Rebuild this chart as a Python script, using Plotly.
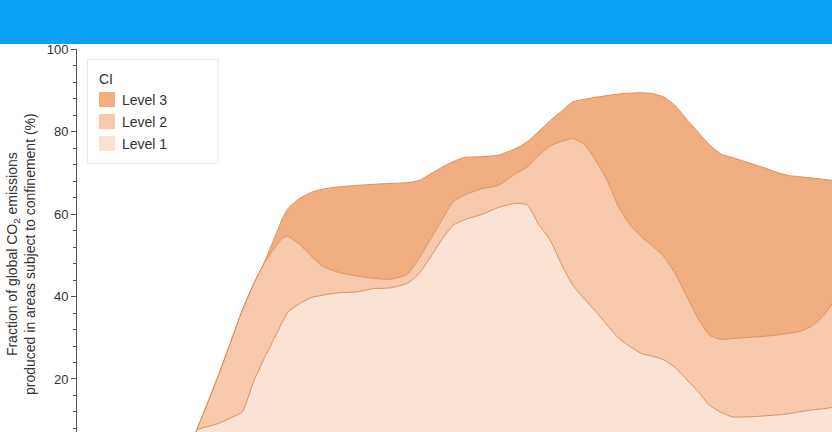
import plotly.graph_objects as go
import pandas as pd

# ---- data ----
dates = ["2020-01-01", "2020-01-21", "2020-01-22", "2020-01-24", "2020-01-26", "2020-01-28",
         "2020-01-30", "2020-02-01", "2020-02-03", "2020-02-05", "2020-02-06", "2020-02-07",
         "2020-02-09", "2020-02-11", "2020-02-13", "2020-02-16", "2020-02-19", "2020-02-22",
         "2020-02-25", "2020-02-28", "2020-03-01", "2020-03-03", "2020-03-05", "2020-03-07",
         "2020-03-09", "2020-03-12", "2020-03-15", "2020-03-18", "2020-03-20", "2020-03-22",
         "2020-03-24", "2020-03-26", "2020-03-28", "2020-03-30", "2020-04-01", "2020-04-03",
         "2020-04-05", "2020-04-07", "2020-04-09", "2020-04-11", "2020-04-13", "2020-04-15",
         "2020-04-17", "2020-04-19", "2020-04-21", "2020-04-23", "2020-04-25", "2020-04-27",
         "2020-04-29", "2020-05-01", "2020-05-03", "2020-05-05", "2020-05-07", "2020-05-09",
         "2020-05-11", "2020-05-13", "2020-05-15"]

level1 = [0, 3.5, 7.6, 8.5, 9.3, 10.6, 12.0, 19.4, 25.4, 30.9, 33.7, 36.2, 38.2, 39.7, 40.3,
          40.9, 41.1, 41.9, 42.1, 43.2, 45.5, 49.5, 53.8, 57.3, 58.6, 59.9, 61.6, 62.6, 62.2,
          57.5, 53.7, 47.8, 42.7, 39.4, 36.4, 33.1, 29.9, 27.9, 26.2, 25.5, 24.6, 22.7, 19.8,
          16.9, 13.6, 11.9, 10.8, 10.8, 10.9, 11.1, 11.3, 11.6, 12.1, 12.5, 12.8, 13.2, 13.5]

level2 = [0, 0, 0, 6.0, 12.3, 18.5, 24.7, 23.7, 23.0, 21.5, 20.4, 18.4, 14.5, 10.2, 7.1,
          4.9, 3.9, 2.5, 2.1, 2.2, 3.7, 4.4, 4.7, 5.7, 6.0, 6.2, 5.4, 7.2, 9.2,
          16.7, 22.8, 29.8, 35.6, 37.5, 36.6, 35.1, 31.9, 29.5, 28.3, 26.7, 25.0, 22.7, 20.2,
          17.7, 17.0, 17.7, 19.0, 19.2, 19.3, 19.3, 19.4, 19.5, 19.5, 20.4, 22.6, 26.0, 28.5]

level3 = [0, 0, 0, 0, 0, 0, 0, 0, 0.3, 3.0, 4.7, 6.7, 11.0, 15.3, 18.6,
          20.8, 21.9, 22.8, 23.2, 22.2, 18.9, 15.8, 12.8, 9.7, 9.1, 7.8, 7.3, 6.1, 6.1,
          5.8, 6.1, 7.3, 8.9, 10.9, 15.3, 20.5, 27.3, 31.9, 34.9, 37.0, 38.7, 40.8, 42.9,
          45.2, 46.1, 44.9, 43.9, 42.8, 41.7, 40.6, 39.3, 38.2, 37.4, 35.8, 33.0, 28.9, 25.9]

level_names = ["Level 1", "Level 2", "Level 3"]
legend_title = "CI"
y_ticks = [20, 40, 60, 80, 100]
y_title = "Fraction of global CO<sub>2</sub> emissions<br>produced in areas subject to confinement (%)"

# ---- styling ----
fills = ["#FAE3D4", "#F7C9AA", "#F1AE80"]
edge = "#D9925F"
font_family = "Liberation Sans, Arial, sans-serif"
text_col = "#333333"

W, H = 832, 432
ML, MT = 77, 49
PW, PH = W - ML, H - MT


def px_x(px):
    return (px - ML) / PW


def px_y(py):
    return (H - py) / PH


fig = go.Figure()
for name, vals, col in zip(level_names, [level1, level2, level3], fills):
    fig.add_trace(go.Scatter(
        x=dates, y=vals, name=name, mode="lines", stackgroup="ci",
        line=dict(color=edge, width=1, shape="spline", smoothing=0.5),
        fillcolor=col, showlegend=False, hoverinfo="x+y+name"))

x_end = pd.Timestamp("2020-01-01") + pd.Timedelta(days=132.46)

shapes = [dict(type="rect", xref="paper", yref="paper",
               x0=-0.12, x1=1.02, y0=px_y(44), y1=1.15,
               fillcolor="#0AA2F9", line=dict(width=0), layer="above"),
          # legend box
          dict(type="rect", xref="paper", yref="paper",
               x0=px_x(87.5), x1=px_x(218), y0=px_y(163.5), y1=px_y(59.5),
               fillcolor="white", line=dict(color="#E8E8E8", width=1), layer="above")]
annotations = [dict(text=y_title, xref="paper", yref="paper",
                    x=px_x(21), y=px_y(254), xanchor="center", yanchor="middle",
                    textangle=-90, showarrow=False,
                    font=dict(size=14, color=text_col)),
               dict(text=legend_title, xref="paper", yref="paper",
                    x=px_x(97), y=px_y(78.5), xanchor="left", yanchor="middle",
                    showarrow=False, font=dict(size=14, color=text_col))]

# legend entries (Level 3 on top)
for i, (name, col) in enumerate(zip(level_names[::-1], fills[::-1])):
    cy = 99.5 + 22 * i
    shapes.append(dict(type="rect", xref="paper", yref="paper",
                       x0=px_x(99), x1=px_x(115), y0=px_y(cy + 7.5), y1=px_y(cy - 7.5),
                       fillcolor=col, line=dict(width=0), layer="above"))
    annotations.append(dict(text=name, xref="paper", yref="paper",
                            x=px_x(120), y=px_y(cy + 0.5), xanchor="left", yanchor="middle",
                            showarrow=False, font=dict(size=14, color=text_col)))

fig.update_layout(
    width=W, height=H,
    margin=dict(l=ML, r=0, t=MT, b=0),
    paper_bgcolor="white", plot_bgcolor="white",
    font=dict(family=font_family, size=13, color=text_col),
    showlegend=False,
    hovermode=False,
    xaxis=dict(visible=False, range=["2020-01-01", x_end.isoformat()]),
    yaxis=dict(
        range=[7.15, 100], showgrid=False, zeroline=False,
        showline=True, linecolor="#555555", linewidth=1,
        ticks="outside", ticklen=5, tickcolor="#555555", tickwidth=1,
        tickvals=y_ticks, tickfont=dict(size=13, color=text_col),
        minor=dict(ticks="outside", ticklen=3, dtick=4, tick0=0,
                   tickcolor="#555555", showgrid=False)),
    shapes=shapes,
    annotations=annotations,
)

fig.write_html("out.html", config={"displayModeBar": False},
               post_script="document.body.style.margin='0';")
